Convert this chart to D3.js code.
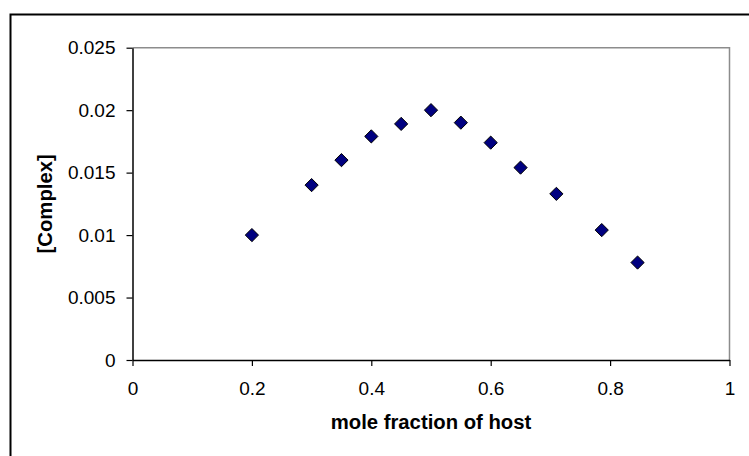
<!DOCTYPE html>
<html>
<head>
<meta charset="utf-8">
<script src="https://cdn.jsdelivr.net/npm/d3@7"></script>
<style>
html,body{margin:0;padding:0;background:#fff;}
svg{display:block;}
text{font-family:"Liberation Sans",Arial,sans-serif;}
</style>
</head>
<body>
<svg id="chart" width="749" height="456"></svg>
<script>
const moleFraction = [0.2, 0.3, 0.35, 0.4, 0.45, 0.5, 0.55, 0.6, 0.65, 0.71, 0.786, 0.846];
const complexConc = [0.0100, 0.0140, 0.0160, 0.0179, 0.0189, 0.0200, 0.0190, 0.0174, 0.0154, 0.0133, 0.0104, 0.0078];
const xTicks = [0, 0.2, 0.4, 0.6, 0.8, 1];
const yTicks = [0, 0.005, 0.01, 0.015, 0.02, 0.025];
const xTitle = "mole fraction of host";
const yTitle = "[Complex]";

const svg = d3.select("#chart");
const plot = {left: 132.5, right: 729.5, top: 47.7, bottom: 360};

const x = d3.scaleLinear().domain([0, 1]).range([plot.left, plot.right]);
const y = d3.scaleLinear().domain([0, 0.025]).range([plot.bottom, plot.top]);

// outer chart border
svg.append("rect").attr("x", 10.5).attr("y", 14.5).attr("width", 800).attr("height", 500)
  .attr("fill", "none").attr("stroke", "#000").attr("stroke-width", 2);

// plot area top/right border (gray)
svg.append("path")
  .attr("d", `M${plot.left},${plot.top}H${plot.right}V${plot.bottom}`)
  .attr("fill", "none").attr("stroke", "#8c8c8c").attr("stroke-width", 1.5);

const fmt = d => String(+d.toFixed(3));

const xAxis = svg.append("g").attr("transform", `translate(0,${plot.bottom})`)
  .call(d3.axisBottom(x).tickValues(xTicks).tickFormat(fmt).tickSize(6).tickPadding(16).tickSizeOuter(0));
const yAxis = svg.append("g").attr("transform", `translate(${plot.left},0)`)
  .call(d3.axisLeft(y).tickValues(yTicks).tickFormat(fmt).tickSize(6).tickPadding(11).tickSizeOuter(0));

[xAxis, yAxis].forEach(g => {
  g.select(".domain").attr("stroke", "#000").attr("stroke-width", 1.5);
  g.selectAll(".tick line").attr("stroke", "#000").attr("stroke-width", 1.2);
  g.selectAll(".tick text").attr("fill", "#000").style("font-size", "19px")
    .style("font-family", "'Liberation Sans', Arial, sans-serif");
});

// axis titles
svg.append("text").attr("x", (plot.left + plot.right) / 2).attr("y", 429)
  .attr("text-anchor", "middle").style("font-size", "20.3px").style("font-weight", "bold")
  .text(xTitle);
svg.append("text").attr("transform", `translate(51.5,${(plot.top + plot.bottom) / 2}) rotate(-90)`)
  .attr("text-anchor", "middle").style("font-size", "20.3px").style("font-weight", "bold")
  .text(yTitle);

// markers
const r = 6.6;
svg.append("g").selectAll("path").data(moleFraction.map((v, i) => [v, complexConc[i]]))
  .join("path")
  .attr("transform", d => `translate(${x(d[0])},${y(d[1])})`)
  .attr("d", `M0,${-r}L${r},0L0,${r}L${-r},0Z`)
  .attr("fill", "#000080").attr("stroke", "#000").attr("stroke-width", 1);
</script>
</body>
</html>
